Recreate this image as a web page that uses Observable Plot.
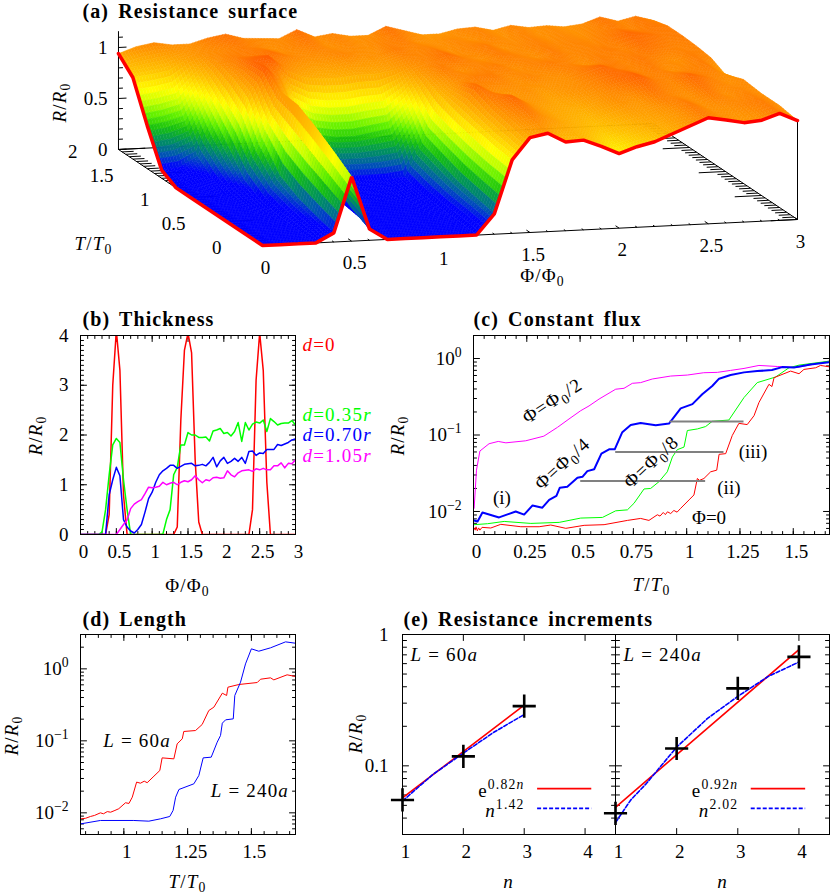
<!DOCTYPE html>
<html><head><meta charset="utf-8">
<script src="https://cdn.jsdelivr.net/npm/d3@7"></script>
<script src="https://cdn.jsdelivr.net/npm/@observablehq/plot@0.6"></script>
<style>
html,body{margin:0;padding:0;background:#fff}
#fig{position:relative;width:830px;height:894px;overflow:hidden}
#fig svg{position:absolute;background:transparent;overflow:visible}
#fig g[font-weight="bold"] text{letter-spacing:1.1px;word-spacing:3px}
</style></head><body><div id="fig"></div>
<script>
// ---------- (a) surface ----------
const surfPhi=[0,.1,.2,.3,.4,.5,.6,.7,.8,.9,1,1.1,1.2,1.3,1.4,1.5,1.6,1.7,1.8,1.9,2,2.1,2.2,2.3,2.4,2.5,2.6,2.7,2.8,2.9,3];
const surfT=[0,.25,.5,.75,1,1.2,1.4,1.6,1.8,2];
const surfR0=[0,0,0,0,.09,.63,.11,0,0,0,0,0,0,.2,.72,.93,.965,.87,.88,.81,.73,.79,.83,.9,.97,1.04,1.01,.975,.99,1.05,.97];
const surfR1=[0,0,0,.01,.14,.76,.2,.02,0,0,0,0,.02,.24,.74,.98,1.05,.98,.92,.88,.84,.87,.92,.95,.98,1.06,1,1,1.03,1.05,1];
const surfR2=[0,0,0,.02,.2,.88,.35,.05,0,0,0,0,.03,.28,.78,1.02,1.1,1,.94,.92,.9,.95,1,.98,1.06,1.02,1,1.06,1,1.03,1];
const surfR3=[0,0,0,.05,.3,.98,.5,.08,.01,0,0,.01,.05,.35,.82,1.1,1,.98,1,.95,.98,1,1.03,1.08,1.12,1.05,1.02,1.1,1.05,1,1.02];
const surfR4=[0,0,.02,.15,.55,1,.7,.15,.1,.08,.08,.08,.1,.42,.88,1,1.05,1.05,1,1.03,1,1,1.05,1.1,1.05,1.03,1.05,1,1.03,1.05,.95];
const surfR5=[0,.02,.08,.35,.85,1.15,.95,.55,.45,.42,.42,.45,.48,.68,.95,1.05,1,1.03,1.05,1,1.03,1.05,1.03,1,1.05,1.03,1.06,1.03,1,1.05,1.02];
const surfR6=[.08,.1,.2,.55,.95,1.1,1.15,1,.92,.9,.9,.92,.92,.95,1,1.03,1.08,1.03,1,1.05,1.03,1,1.05,1.02,1.03,1.05,1.03,1.08,1.05,1.03,1.04];
const surfR7=[.42,.45,.5,.75,1,1.05,1.05,1.08,1.03,1,1,1.03,1,1,1.05,1.02,1.04,1,1.03,1.05,1,1.02,1.04,1.02,1.03,1.02,1.05,1.1,1.08,1.05,1.05];
const surfR8=[.8,.82,.85,.95,1,1.02,1.05,1.03,1,1.03,1.05,1,1.02,1,1.03,1.05,1,1,1.02,1,1.03,1,1.03,1,1.02,1,1.03,1.05,1.03,1.06,1.05];
const surfR9=[.94,1,1.03,1,1,1.05,1.08,1.03,1.02,1.01,1.09,1.01,1.035,1,1,1.08,1.03,.98,.98,1.02,1.03,.99,1.03,1,1.01,.99,1.01,1.07,1.02,1.06,1.01];
const surfRows=[surfR0,surfR1,surfR2,surfR3,surfR4,surfR5,surfR6,surfR7,surfR8,surfR9];
const colorLevels=[0,.1,.2,.3,.4,.5,.6,.7,.85,1,1.1,1.2];
const colorRamp=["#0000ff","#0000ff","#0058b0","#009060","#18c010","#60f000","#c0ff00","#ffff00","#ffc000","#ff9000","#ff6a00","#ff5000"];
const zTicks=[0,.5,1], phiTicks=[0,.5,1,1.5,2,2.5,3], tTicks=[0,.5,1,1.5,2];

// ---------- (b) thickness ----------
const bPhiStep=[0,.05,.1,.15,.2,.25,.3,.35,.4,.45,.5,.55,.6,.65,.7,.75,.8,.85,.9,.95,1,1.05,1.1,1.15,1.2,1.25,1.3,1.35,1.4,1.45,1.5,1.55,1.6,1.65,1.7,1.75,1.8,1.85,1.9,1.95,2,2.05,2.1,2.15,2.2,2.25,2.3,2.35,2.4,2.45,2.5,2.55,2.6,2.65,2.7,2.75,2.8,2.85,2.9,2.95,3];
const bRed=[0,0,0,0,0,0,0,0,.4,3,4.1,3.3,.8,0,0,0,0,0,0,0,0,0,0,0,0,0,0,.15,2.3,3.7,4.05,3.65,1.5,.25,0,0,0,0,0,0,0,0,0,0,0,0,0,0,.5,3.1,4.05,3.3,1.05,0,0,0,0,0,0,0,0];
const bGreen=[0,0,0,0,0,0,.05,.5,1.2,1.8,1.93,1.85,1.1,.5,0,0,0,0,0,0,0,0,0,.01,.3,.5,1.2,1.35,1.8,1.8,2.05,2,2,1.95,1.95,1.96,1.88,2.08,2.1,2.13,2.03,2.05,1.98,2.07,2.25,1.87,2.25,2.1,2.22,2.26,2.24,2.3,2.07,2.33,2.27,2.2,2.23,2.24,2.24,2.29,2.2];
const bBlue=[0,0,0,0,0,0,0,0,.8,1.1,1.35,1.18,.3,.15,.07,.03,.1,.2,.45,.72,.85,1.05,1.2,1.28,1.33,1.39,1.39,1.33,1.37,1.41,1.42,1.43,1.38,1.39,1.41,1.38,1.45,1.55,1.36,1.48,1.55,1.43,1.47,1.53,1.47,1.55,1.43,1.67,1.68,1.59,1.64,1.63,1.71,1.71,1.71,1.81,1.79,1.82,1.85,1.9,1.92];
const bMagenta=[0,0,0,0,0,0,0,0,0,0,0,.1,.2,.29,.52,.61,.66,.7,.82,.95,.94,.95,.97,1.05,1,1.03,1.05,1,1.05,1.08,1.06,1.1,1.18,1.1,1.04,1.1,1.08,1.14,1.15,1.13,1.14,1.28,1.2,1.16,1.24,1.28,1.29,1.3,1.27,1.32,1.3,1.33,1.3,1.3,1.38,1.38,1.44,1.34,1.43,1.42,1.5];

// ---------- (c) constant flux: [T, R] ----------
const cMagenta=[[.003,.011],[.014,.0347],[.03,.0617],[.073,.0769],[.116,.0824],[.152,.079],[.245,.084],[.33,.0966],[.394,.126],[.448,.162],[.503,.208],[.542,.24],[.589,.295],[.667,.397],[.706,.408],[.745,.474],[.784,.484],[.839,.54],[.925,.59],[1.003,.608],[1.08,.652],[1.144,.659],[1.206,.699],[1.269,.742],[1.339,.812],[1.425,.787],[1.519,.764],[1.667,.923]];
const cBlue=[[.003,.00764],[.019,.00741],[.042,.0097],[.12,.00836],[.198,.01],[.2375,.0091],[.277,.012],[.323,.0112],[.355,.0142],[.389,.016],[.405,.0205],[.44,.0211],[.4875,.0276],[.511,.0284],[.534,.0337],[.566,.0357],[.6,.057],[.636,.0649],[.6625,.0649],[.698,.1088],[.7375,.1355],[.784,.1438],[.855,.134],[.917,.141],[.972,.223],[1.027,.2535],[1.073,.341],[1.12,.438],[1.152,.545],[1.206,.608],[1.269,.659],[1.331,.685],[1.4,.706],[1.448,.772],[1.503,.764],[1.581,.836],[1.667,.896]];
const cGreen=[[.003,.00672],[.066,.00692],[.144,.00741],[.269,.00698],[.402,.0072],[.503,.0082],[.605,.00836],[.667,.0102],[.722,.0105],[.753,.0128],[.8,.0197],[.831,.02],[.87,.0245],[.909,.033],[.933,.0516],[.956,.0643],[.9875,.0695],[1.003,.1144],[1.05,.12],[1.089,.129],[1.12,.151],[1.198,.157],[1.269,.309],[1.331,.484],[1.417,.573],[1.48,.757],[1.527,.82],[1.667,.923]];
const cRed=[[.003,.00608],[.008,.0057],[.012,.0063],[.018,.0056],[.024,.0061],[.03,.0057],[.04,.0062],[.081,.00608],[.128,.00679],[.222,.00632],[.308,.00632],[.3625,.00665],[.433,.00602],[.519,.00659],[.6125,.00672],[.722,.00764],[.784,.00811],[.823,.00764],[.8625,.00906],[.875,.0087],[.89,.0097],[.9,.0091],[.91,.0099],[.925,.0094],[.94,.0103],[.955,.0098],[.972,.011],[1.011,.01416],[1.034,.01644],[1.05,.027],[1.06,.0255],[1.081,.027],[1.1125,.033],[1.141,.0347],[1.152,.0559],[1.183,.057],[1.214,.0986],[1.245,.142],[1.284,.1368],[1.316,.179],[1.339,.266],[1.386,.46],[1.4,.43],[1.41,.5623],[1.4875,.685],[1.527,.6327],[1.55,.72],[1.605,.757],[1.628,.812],[1.667,.78]];
const cSteps=[[.503,1.089,.025],[.667,1.175,.06],[.922,1.269,.15]];
const cNotes=[["Φ=Φ_{0}/2",.37,.28,-33],["Φ=Φ_{0}/4",.417,.0423,-42],["Φ=Φ_{0}/8",.834,.0445,-43],["(i)",.133,.0152,0],["(ii)",1.198,.0205,0],["(iii)",1.311,.06,0],["Φ=0",1.105,.0082,0]];

// ---------- (d) length: [T, R] ----------
const dRed=[[.831,.00826],[.85,.0084],[.869,.0089],[.885,.0092],[.908,.01],[.92,.0097],[.935,.0104],[.948,.0102],[.965,.0108],[.98,.0114],[1.0065,.0138],[1.02,.0135],[1.033,.0165],[1.05,.0267],[1.065,.0258],[1.08,.0275],[1.0915,.0262],[1.118,.0323],[1.141,.0387],[1.15,.058],[1.196,.0562],[1.209,.0908],[1.229,.1066],[1.235,.1349],[1.281,.139],[1.307,.1686],[1.333,.2636],[1.353,.2936],[1.386,.459],[1.403,.4266],[1.408,.556],[1.451,.606],[1.523,.6457],[1.536,.7178],[1.575,.75],[1.588,.703],[1.64,.826],[1.673,.783]];
const dBlue=[[.831,.00703],[.908,.00783],[1.039,.00783],[1.098,.00766],[1.144,.00826],[1.18,.0089],[1.193,.0108],[1.203,.0165],[1.216,.0211],[1.2745,.0253],[1.294,.033],[1.311,.058],[1.3425,.0593],[1.366,.0958],[1.379,.1186],[1.386,.1758],[1.399,.1958],[1.429,.202],[1.435,.4266],[1.4575,.653],[1.477,1.172],[1.5,1.897],[1.529,1.758],[1.575,1.958],[1.634,2.37],[1.673,2.27]];
const dNotes=[["*L* = 60*a*",1.052,.101],["*L* = 240*a*",1.494,.0204]];

// ---------- (e) increments: [n, R] ----------
const e60Points=[[1,.055],[2,.118],[3,.285]];
const e60Exp=[[1,.057],[3,.29]];
const e60Pow=[[1,.054],[1.5,.086],[2,.125],[2.5,.18],[3,.246]];
const e240Points=[[1,.0435],[2,.1355],[3,.389],[4,.675]];
const e240Exp=[[1,.0483],[4,.768]];
const e240Pow=[[1,.037],[1.25,.055],[1.5,.0729],[2,.1387],[2.5,.2285],[3,.338],[3.5,.48],[4,.617]];
const eLegend60=[["e^{0.82*n*}","#f00",.0671,null],["*n*^{1.42}","#00f",.0474,"4,2"]];
const eLegend240=[["e^{0.92*n*}","#f00",.0671,null],["*n*^{2.02}","#00f",.0474,"4,2"]];

// ---------- helpers ----------
const FONT='"Liberation Serif",serif', FS=19;
const fig=document.getElementById("fig");
const up={draw(c,l){c.moveTo(0,0);c.lineTo(0,-l)}};
function seq(a,b,s){const o=[];for(let i=0;a+i*s<=b+1e-9;i++)o.push(+(a+i*s).toFixed(6));return o}
function logMinor(lo,hi){const o=[];for(let e=lo;e<hi;e++)for(let k=2;k<10;k++)o.push(k*10**e);return o}
function ticks(xs,ys,maj,min,sw=1){
  const out=[];
  for(const [vals,len] of [[xs[0],maj],[xs[1],min]]){
    if(!vals.length)continue;
    out.push(Plot.vector(vals,{x:d=>d,frameAnchor:"bottom",rotate:0,anchor:"start",length:len,shape:up,strokeWidth:sw}));
    out.push(Plot.vector(vals,{x:d=>d,frameAnchor:"top",rotate:180,anchor:"start",length:len,shape:up,strokeWidth:sw}));
  }
  for(const [vals,len] of [[ys[0],maj],[ys[1],min]]){
    out.push(Plot.vector(vals,{y:d=>d,frameAnchor:"left",rotate:90,anchor:"start",length:len,shape:up,strokeWidth:sw}));
    out.push(Plot.vector(vals,{y:d=>d,frameAnchor:"right",rotate:-90,anchor:"start",length:len,shape:up,strokeWidth:sw}));
  }
  return out;
}
function place(plot,left,top){plot.style.left=left+"px";plot.style.top=top+"px";fig.appendChild(plot);return plot}
function base(o){return {style:{fontFamily:FONT,fontSize:FS+"px",color:"#000",background:"transparent",overflow:"visible"},...o}}
function richText(svg){
  svg.querySelectorAll("text").forEach(t=>{
    if(t.querySelector("tspan"))return;
    const s=t.textContent; if(!/[*_^]/.test(s))return;
    const bs=parseFloat(getComputedStyle(t).fontSize)||FS;
    const runs=[];let cur="",it=false,shift=0;
    const flush=()=>{if(cur)runs.push({s:cur,it,shift});cur=""};
    for(let i=0;i<s.length;i++){
      const c=s[i];
      if(c==="*"){flush();it=!it}
      else if((c==="^"||c==="_")&&s[i+1]==="{"){flush();shift=c==="^"?1:-1;i++}
      else if(c==="}"){flush();shift=0}
      else cur+=c;
    }
    flush();
    t.textContent="";let off=0;
    if(!/^10\^/.test(s))t.style.letterSpacing="1.2px";
    for(const r of runs){
      const sp=document.createElementNS("http://www.w3.org/2000/svg","tspan");
      sp.textContent=r.s;
      if(r.it)sp.setAttribute("font-style","italic");
      const target=r.shift>0?-.4*bs:r.shift<0?.22*bs:0;
      if(target!==off){sp.setAttribute("dy",(target-off).toFixed(2));off=target}
      if(r.shift)sp.setAttribute("font-size",(bs*.72).toFixed(1));
      t.appendChild(sp);
    }
  });
}

// ---------- panel (a) ----------
const sx=(p,t)=>p-.4038*t, sy=(p,t,z)=>z+.085*p+.4706*t;
const NP=6,NT=8;
const surfPoly=[];let pid=0;
const val=(i,j,u,v)=>{const a=surfRows[j][i],b=surfRows[j][i+1],c=surfRows[j+1][i],d=surfRows[j+1][i+1];
  return a*(1-u)*(1-v)+b*u*(1-v)+c*(1-u)*v+d*u*v};
for(let j=surfT.length-2;j>=0;j--)for(let nv=NT-1;nv>=0;nv--){
  for(let i=surfPhi.length-2;i>=0;i--)for(let nu=NP-1;nu>=0;nu--){
    const us=[nu/NP,(nu+1)/NP,(nu+1)/NP,nu/NP], vs=[nv/NT,nv/NT,(nv+1)/NT,(nv+1)/NT];
    const corners=us.map((u,k)=>{const v=vs[k];
      const p=surfPhi[i]+u*(surfPhi[i+1]-surfPhi[i]), t=surfT[j]+v*(surfT[j+1]-surfT[j]);
      return {p,t,z:val(i,j,u,v)}});
    const m=d3.mean(corners,c=>c.z);
    for(const c of corners)surfPoly.push({id:pid,sx:sx(c.p,c.t),sy:sy(c.p,c.t,c.z),m});
    pid++;
  }
}
const lnk=(rows)=>rows.map(([p1,t1,z1,p2,t2,z2])=>({x1:sx(p1,t1),y1:sy(p1,t1,z1),x2:sx(p2,t2),y2:sy(p2,t2,z2)}));
const isMaj=v=>Math.abs(v*2-Math.round(v*2))<1e-6;
const hatchRight=seq(0,2,.05).map(t=>[3,t,0,3-(isMaj(t)?.15:.065),t,0]);
const hatchLeft=seq(0,2,.05).map(t=>[0,t,0,(isMaj(t)?.15:.065),t,0]);
const frontTicks=seq(0,3,.1).map(p=>[p,0,0,p,(isMaj(p)?.05:.025),0]);
const zT=seq(0,1.16,.1).map(z=>[0,2,z,(isMaj(z)?.045:.025),2,z]);
const axesLines=[[0,0,0,3,0,0],[3,0,0,3,2,0],[0,2,0,3,2,0],[0,0,0,0,2,0],[0,2,0,0,2,1.16],[3,0,0,3,0,surfR0[30]]];
const redEdge=[...surfT.map((t,j)=>[0,t,surfRows[j][0]]).reverse(),...surfPhi.map((p,i)=>[p,0,surfR0[i]])];
const pa=Plot.plot(base({width:830,height:300,margin:0,axis:null,
  x:{domain:[0,3],range:[262,797]},y:{domain:[0,1],range:[245,143]},
  color:{type:"linear",domain:colorLevels,range:colorRamp,clamp:true,interpolate:"rgb"},
  marks:[
    Plot.link(lnk(hatchLeft),{x1:"x1",y1:"y1",x2:"x2",y2:"y2",stroke:"#000",strokeWidth:1}),
    Plot.link(lnk(hatchRight),{x1:"x1",y1:"y1",x2:"x2",y2:"y2",stroke:"#000",strokeWidth:1}),
    Plot.link(lnk(frontTicks),{x1:"x1",y1:"y1",x2:"x2",y2:"y2",stroke:"#000",strokeWidth:1}),
    Plot.link(lnk(zT),{x1:"x1",y1:"y1",x2:"x2",y2:"y2",stroke:"#000",strokeWidth:1}),
    Plot.link(lnk(axesLines),{x1:"x1",y1:"y1",x2:"x2",y2:"y2",stroke:"#000",strokeWidth:1}),
    Plot.line(surfPoly,{x:"sx",y:"sy",z:"id",fill:"m",stroke:"m",strokeWidth:.5,curve:"linear-closed"}),
    Plot.line(redEdge,{x:d=>sx(d[0],d[1]),y:d=>sy(d[0],d[1],d[2]),stroke:"#f00",strokeWidth:3.5,strokeLinejoin:"miter"}),
    Plot.text(zTicks,{x:sx(0,2),y:d=>sy(0,2,d),text:d=>String(d),textAnchor:"end",dx:-11,lineAnchor:"middle"}),
    Plot.text(phiTicks,{x:d=>sx(d,0),y:d=>sy(d,0,0),text:d=>String(d),dx:3,dy:22,lineAnchor:"middle"}),
    Plot.text(tTicks,{x:d=>sx(0,d),y:d=>sy(0,d,0),text:d=>String(d),dx:-41,dy:2,textAnchor:"end",lineAnchor:"middle"})
  ]}));
place(pa,0,0);

// ---------- panel (b) ----------
const zipB=(ys)=>bPhiStep.map((x,i)=>[x,ys[i]]);
const pb=Plot.plot(base({width:410,height:300,marginLeft:80,marginRight:115,marginTop:35,marginBottom:66,
  x:{domain:[0,3]},y:{domain:[0,4]},
  marks:[
    Plot.axisX({ticks:seq(0,3,.5),tickSize:0,tickPadding:10,label:null,dx:3,tickFormat:d=>String(d)}),
    Plot.axisY({ticks:seq(0,4,1),tickSize:0,tickPadding:12,label:null,tickFormat:d=>String(d)}),
    ...ticks([seq(0,3,.5),seq(0,3,.1)],[seq(0,4,1),seq(0,4,.1)],6,3),
    Plot.line(zipB(bRed),{stroke:"#f00",strokeWidth:1.5,clip:true}),
    Plot.line(zipB(bGreen),{stroke:"#0f0",strokeWidth:1.5,clip:true}),
    Plot.line(zipB(bBlue),{stroke:"#00f",strokeWidth:1.5,clip:true}),
    Plot.line(zipB(bMagenta),{stroke:"#f0f",strokeWidth:1.5,clip:true}),
    Plot.frame({stroke:"#000",strokeWidth:1})
  ]}));
place(pb,0,300);

// ---------- panel (c) ----------
const pow10=e=>e===0?"10^{0}":"10^{−"+(-e)+"}";
const pc=Plot.plot(base({width:420,height:300,marginLeft:63,marginRight:1,marginTop:35,marginBottom:66,
  x:{domain:[0,1.67]},y:{type:"log",domain:[.005,2]},
  marks:[
    Plot.axisX({ticks:seq(0,1.5,.25),tickSize:0,tickPadding:10,label:null,dx:3,tickFormat:d=>String(d)}),
    Plot.axisY({ticks:[.01,.1,1],tickSize:0,tickPadding:12,label:null,tickFormat:d=>pow10(Math.round(Math.log10(d)))}),
    ...ticks([seq(0,1.5,.25),seq(0,1.65,.05)],[[.01,.1,1],logMinor(-3,1).filter(v=>v>=.005&&v<=2)],6,3),
    Plot.line(cMagenta,{stroke:"#f0f",strokeWidth:1,clip:true}),
    Plot.line(cGreen,{stroke:"#0f0",strokeWidth:1,clip:true}),
    Plot.line(cBlue,{stroke:"#00f",strokeWidth:2,clip:true}),
    Plot.line(cRed,{stroke:"#f00",strokeWidth:1,clip:true}),
    Plot.ruleY(cSteps,{x1:d=>d[0],x2:d=>d[1],y:d=>d[2],stroke:"#808080",strokeWidth:2}),
    Plot.text(cNotes,{x:d=>d[1],y:d=>d[2],text:d=>d[0],rotate:d=>d[3],lineAnchor:"middle"}),
    Plot.frame({stroke:"#000",strokeWidth:1})
  ]}));
place(pc,410,300);

// ---------- panel (d) ----------
const pd=Plot.plot(base({width:340,height:294,marginLeft:80,marginRight:45,marginTop:34,marginBottom:60,
  x:{domain:[.83,1.673]},y:{type:"log",domain:[.005,3]},
  marks:[
    Plot.axisX({ticks:[1,1.25,1.5],tickSize:0,tickPadding:10,label:null,dx:3,tickFormat:d=>String(d)}),
    Plot.axisY({ticks:[.01,.1,1],tickSize:0,tickPadding:12,label:null,tickFormat:d=>pow10(Math.round(Math.log10(d)))}),
    ...ticks([[1,1.25,1.5],seq(.85,1.65,.05)],[[.01,.1,1],logMinor(-3,1).filter(v=>v>=.005&&v<=3)],6,3),
    Plot.line(dRed,{stroke:"#f00",strokeWidth:1,clip:true}),
    Plot.line(dBlue,{stroke:"#00f",strokeWidth:1,clip:true}),
    Plot.text(dNotes,{x:d=>d[1],y:d=>d[2],text:d=>d[0],lineAnchor:"middle"}),
    Plot.frame({stroke:"#000",strokeWidth:1})
  ]}));
place(pd,0,600);

// ---------- panel (e) ----------
function eMarks(points,exp,pow,legend,noteText,yLabels){
  const legX=[3.22,4.11];
  return [
    Plot.axisX({ticks:[1,2,3,4],tickSize:0,tickPadding:10,label:null,dx:3,tickFormat:d=>String(d)}),
    ...(yLabels?[Plot.axisY({ticks:[.1,1],tickSize:0,tickPadding:14,label:null,tickFormat:d=>String(d)})]:[]),
    ...ticks([[1,2,3,4],[]],[[.1,1],logMinor(-2,0).filter(v=>v>=.03&&v<=1)],6,4),
    Plot.line(exp,{stroke:"#f00",strokeWidth:1.6}),
    Plot.line(pow,{stroke:"#00f",strokeWidth:1.6,strokeDasharray:"4,2"}),
    Plot.dot(points,{r:7.5,symbol:"plus",stroke:"#000",strokeWidth:2.6}),
    Plot.ruleY(legend.slice(0,1),{x1:legX[0],x2:legX[1],y:d=>d[2],stroke:d=>d[1],strokeWidth:1.6}),
    Plot.ruleY(legend.slice(1),{x1:legX[0],x2:legX[1],y:d=>d[2],stroke:d=>d[1],strokeWidth:1.6,strokeDasharray:"4,2"}),
    Plot.text(legend,{x:legX[0],y:d=>d[2],text:d=>d[0],textAnchor:"end",dx:-13,dy:2,lineAnchor:"middle"}),
    Plot.text([noteText],{frameAnchor:"top-left",dx:8,dy:20,text:d=>d,textAnchor:"start",lineAnchor:"middle"}),
    Plot.frame({stroke:"#000",strokeWidth:1})
  ];
}
const pe1=Plot.plot(base({width:275,height:294,marginLeft:62,marginRight:0,marginTop:34,marginBottom:60,
  x:{type:"linear",domain:[1,4.5]},y:{type:"log",domain:[.03,1],axis:null},
  marks:eMarks(e60Points,e60Exp,e60Pow,eLegend60,"*L* = 60*a*",true)}));
place(pe1,340,600);
const pe2=Plot.plot(base({width:234,height:294,marginLeft:20,marginRight:0,marginTop:34,marginBottom:60,
  x:{type:"linear",domain:[1,4.5]},y:{type:"log",domain:[.03,1],axis:null},
  marks:eMarks(e240Points,e240Exp,e240Pow,eLegend240,"*L* = 240*a*",false)}));
place(pe2,595,600);

// ---------- titles & axis labels ----------
const labels=[
 {s:"(a) Resistance surface",x:82,y:11.5,b:1},{s:"(b) Thickness",x:82,y:319,b:1},{s:"(c) Constant flux",x:473,y:319,b:1},
 {s:"(d) Length",x:82,y:619,b:1},{s:"(e) Resistance increments",x:403,y:619,b:1},
 {s:"*R*/*R*_{0}",x:59,y:102,r:-90,m:1},{s:"*T*/*T*_{0}",x:93,y:243,m:1},{s:"Φ/Φ_{0}",x:542,y:275,m:1},
 {s:"*R*/*R*_{0}",x:35,y:435,r:-90,m:1},{s:"Φ/Φ_{0}",x:187,y:585,m:1},
 {s:"*R*/*R*_{0}",x:397,y:435,r:-90,m:1},{s:"*T*/*T*_{0}",x:651,y:584,m:1},
 {s:"*R*/*R*_{0}",x:11,y:735,r:-90,m:1},{s:"*T*/*T*_{0}",x:187,y:881,m:1},
 {s:"*R*/*R*_{0}",x:355,y:733,r:-90,m:1},{s:"*n*",x:508,y:881,m:1},{s:"*n*",x:722,y:881,m:1},
 {s:"*d*=0",x:302,y:344,c:"#f00"},{s:"*d*=0.35*r*",x:302,y:414,c:"#0f0"},{s:"*d*=0.70*r*",x:302,y:434,c:"#00f"},{s:"*d*=1.05*r*",x:302,y:455,c:"#f0f"}
];
const ov=Plot.plot(base({width:830,height:894,margin:0,axis:null,
  x:{type:"identity"},y:{type:"identity"},
  marks:[
    Plot.text(labels.filter(d=>d.b),{x:"x",y:"y",text:"s",textAnchor:"start",lineAnchor:"middle",fontWeight:"bold",fontSize:20}),
    Plot.text(labels.filter(d=>!d.b&&d.r),{x:"x",y:"y",text:"s",rotate:"r",lineAnchor:"middle"}),
    Plot.text(labels.filter(d=>!d.b&&!d.r&&d.m),{x:"x",y:"y",text:"s",lineAnchor:"middle"}),
    Plot.text(labels.filter(d=>d.c),{x:"x",y:"y",text:"s",fill:d=>d.c,textAnchor:"start",lineAnchor:"middle"})
  ]}));
ov.style.pointerEvents="none";
place(ov,0,0);
fig.querySelectorAll("svg").forEach(richText);
</script></body></html>
